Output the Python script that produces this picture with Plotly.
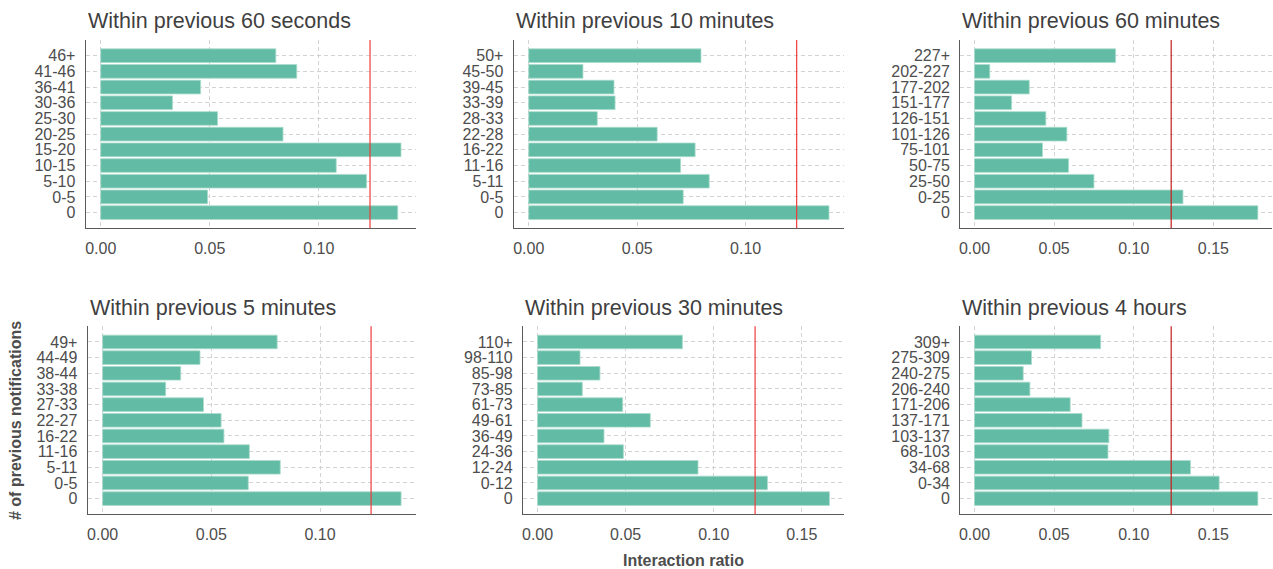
import plotly.graph_objects as go

# ---------------- data ----------------
titles = [
    "Within previous 60 seconds",
    "Within previous 10 minutes",
    "Within previous 60 minutes",
    "Within previous 5 minutes",
    "Within previous 30 minutes",
    "Within previous 4 hours",
]

cats_60s = ["0", "0-5", "5-10", "10-15", "15-20", "20-25", "25-30", "30-36", "36-41", "41-46", "46+"]
vals_60s = [0.1362, 0.0490, 0.1219, 0.1080, 0.1377, 0.0836, 0.0536, 0.0329, 0.0458, 0.0899, 0.0803]

cats_10m = ["0", "0-5", "5-11", "11-16", "16-22", "22-28", "28-33", "33-39", "39-45", "45-50", "50+"]
vals_10m = [0.1384, 0.0712, 0.0832, 0.0700, 0.0767, 0.0592, 0.0316, 0.0398, 0.0393, 0.0250, 0.0794]

cats_60m = ["0", "0-25", "25-50", "50-75", "75-101", "101-126", "126-151", "151-177", "177-202", "202-227", "227+"]
vals_60m = [0.1779, 0.1309, 0.0750, 0.0591, 0.0427, 0.0580, 0.0448, 0.0233, 0.0344, 0.0096, 0.0886]

cats_5m = ["0", "0-5", "5-11", "11-16", "16-22", "22-27", "27-33", "33-38", "38-44", "44-49", "49+"]
vals_5m = [0.1373, 0.0670, 0.0817, 0.0675, 0.0558, 0.0545, 0.0464, 0.0290, 0.0359, 0.0448, 0.0803]

cats_30m = ["0", "0-12", "12-24", "24-36", "36-49", "49-61", "61-73", "73-85", "85-98", "98-110", "110+"]
vals_30m = [0.1657, 0.1305, 0.0911, 0.0487, 0.0377, 0.0640, 0.0483, 0.0254, 0.0354, 0.0241, 0.0822]

cats_4h = ["0", "0-34", "34-68", "68-103", "103-137", "137-171", "171-206", "206-240", "240-275", "275-309", "309+"]
vals_4h = [0.1779, 0.1536, 0.1356, 0.0838, 0.0844, 0.0675, 0.0601, 0.0348, 0.0306, 0.0358, 0.0792]

ref_ratio = 0.1235

x_tick_vals = [0.0, 0.05, 0.10, 0.15]
x_tick_text = ["0.00", "0.05", "0.10", "0.15"]

y_axis_label = "# of previous notifications"
x_axis_label = "Interaction ratio"

# ---------------- layout helpers ----------------
W, H = 1273, 569
panels = [
    (cats_60s, vals_60s),
    (cats_10m, vals_10m),
    (cats_60m, vals_60m),
    (cats_5m, vals_5m),
    (cats_30m, vals_30m),
    (cats_4h, vals_4h),
]
# pixel boxes of plotting areas: (left, right, top, bottom)
boxes = [
    (85.7, 416.0, 40.0, 228.3),
    (513.7, 844.0, 40.0, 228.3),
    (960.3, 1272.0, 40.0, 228.3),
    (87.7, 416.0, 326.3, 514.3),
    (523.0, 844.0, 326.3, 514.3),
    (960.3, 1272.0, 326.3, 514.3),
]
line_colors = ["#ee3b3b", "#ee3b3b", "#c81a1a", "#ee3b3b", "#ee3b3b", "#c81a1a"]
title_y_px = [20.5, 20.5, 20.5, 307.5, 307.5, 307.5]

BAR = "#62bba5"
TXT = "#4d4d4d"
FONT = "Liberation Sans, Arial, sans-serif"
GRID = "#d3d3d3"

fig = go.Figure()
layout = dict(
    width=W, height=H,
    margin=dict(l=0, r=0, t=0, b=0),
    paper_bgcolor="white", plot_bgcolor="white",
    showlegend=False,
    font=dict(family=FONT, color=TXT),
    bargap=0.13,
)
shapes = []
annotations = []

for i, ((cats, vals), (l, r, t, b)) in enumerate(zip(panels, boxes)):
    n = i + 1
    xa = "x" if n == 1 else f"x{n}"
    ya = "y" if n == 1 else f"y{n}"
    fig.add_trace(go.Bar(
        x=vals, y=cats, orientation="h",
        marker=dict(color=BAR, line=dict(color="#a9dccb", width=0.8)),
        xaxis=xa, yaxis=ya, hoverinfo="x+y",
    ))
    mx = max(vals)
    layout["xaxis" if n == 1 else f"xaxis{n}"] = dict(
        domain=[l / W, r / W],
        anchor=ya,
        range=[-0.05 * mx, 1.05 * mx],
        tickmode="array", tickvals=x_tick_vals, ticktext=x_tick_text,
        tickfont=dict(size=16, color=TXT, family=FONT),
        showgrid=True, gridcolor=GRID, griddash="4px,3px", gridwidth=1,
        zeroline=False,
        showline=True, linecolor="#5a5a5a", linewidth=1.2,
        ticks="outside", ticklen=5, tickcolor="rgba(0,0,0,0)",
    )
    layout["yaxis" if n == 1 else f"yaxis{n}"] = dict(
        domain=[1 - b / H, 1 - t / H],
        anchor=xa,
        type="category",
        categoryorder="array", categoryarray=cats,
        tickmode="array", tickvals=cats, ticktext=cats,
        range=[-1.0, len(cats)],
        tickfont=dict(size=16, color=TXT, family=FONT),
        showgrid=True, gridcolor=GRID, griddash="4px,3px", gridwidth=1,
        zeroline=False,
        showline=True, linecolor="#5a5a5a", linewidth=1.2,
        ticks="outside", ticklen=6, tickcolor="rgba(0,0,0,0)",
    )
    shapes.append(dict(
        type="line", xref=xa, yref=f"{ya} domain",
        x0=ref_ratio, x1=ref_ratio, y0=0, y1=1,
        line=dict(color=line_colors[i], width=1.2), layer="above",
    ))
    annotations.append(dict(
        text=titles[i], xref="paper", yref="paper",
        x=l / W, y=1 - title_y_px[i] / H,
        xanchor="left", yanchor="middle", showarrow=False,
        font=dict(size=21.5, color="#3f3f3f", family=FONT),
    ))

annotations.append(dict(
    text=f"<b>{y_axis_label}</b>", xref="paper", yref="paper",
    x=15 / W, y=1 - 421 / H, xanchor="center", yanchor="middle",
    textangle=-90, showarrow=False,
    font=dict(size=16, color=TXT, family=FONT),
))
annotations.append(dict(
    text=f"<b>{x_axis_label}</b>", xref="paper", yref="paper",
    x=683.5 / W, y=1 - 560 / H, xanchor="center", yanchor="middle",
    showarrow=False,
    font=dict(size=16, color=TXT, family=FONT),
))

layout["shapes"] = shapes
layout["annotations"] = annotations
fig.update_layout(**layout)

fig.write_html(
    "out.html",
    config={"displayModeBar": False},
    post_script="document.body.style.margin='0';document.body.style.padding='0';document.body.style.overflow='hidden';",
)
